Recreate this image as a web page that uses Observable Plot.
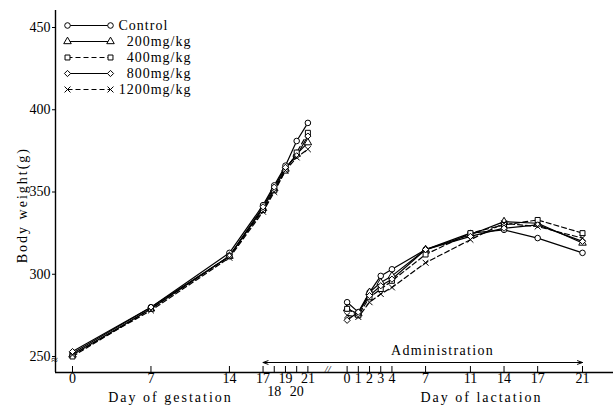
<!DOCTYPE html>
<html>
<head>
<meta charset="utf-8">
<script src="https://cdn.jsdelivr.net/npm/d3@7"></script>
<script src="https://cdn.jsdelivr.net/npm/@observablehq/plot@0.6"></script>
<style>
  html, body { margin: 0; padding: 0; background: #fff; }
  #wrap { position: relative; width: 613px; height: 415px; }
  #wrap svg { position: absolute; left: 0; top: 0; }
</style>
</head>
<body>
<div id="wrap"></div>
<script>
// ---------------- data ----------------
const series = ["Control", "200mg/kg", "400mg/kg", "800mg/kg", "1200mg/kg"];
const dashedSeries = ["400mg/kg", "1200mg/kg"];
const symbols = ["circle", "triangle", "square", "diamond2", "times"];

const gestDays = [0, 7, 14, 17, 18, 19, 20, 21];
const gestControl = [252, 280, 313, 342, 354, 366, 381, 392];
const gest200     = [251, 279, 311, 340, 352, 364, 373, 380];
const gest400     = [250, 279, 311, 339, 351, 363, 374, 386];
const gest800     = [253, 280, 311, 341, 353, 365, 372, 384];
const gest1200    = [251, 278, 310, 338, 350, 363, 371, 376];

const lactDays = [0, 1, 2, 3, 4, 7, 11, 14, 17, 21];
const lactControl = [283, 277, 289, 299, 303, 315, 325, 327, 322, 313];
const lact200     = [279, 276, 289, 295, 299, 315, 324, 332, 331, 319];
const lact400     = [279, 275, 286, 291, 296, 312, 325, 330, 333, 325];
const lact800     = [272, 277, 287, 293, 297, 315, 323, 328, 330, 320];
const lact1200    = [275, 274, 283, 288, 292, 307, 321, 331, 329, 322];

const yTicks = [250, 300, 350, 400, 450];
const gestTicksRow1 = [0, 7, 14, 17, 19, 21];
const gestTicksRow2 = [18, 20];
const lactTicks = [0, 1, 2, 3, 4, 7, 11, 14, 17, 21];

const yLabel = "Body weight(g)";
const gestTitle = "Day of gestation";
const lactTitle = "Day of lactation";
const adminLabel = "Administration";
const adminStart = 17;   // gestation day
const adminEnd = 21;     // lactation day

// ---------------- layout ----------------
const W = 613, H = 415;
const mL = 55, mR = 0, mT = 10, mB = 43;
const lactOffset = 24.5;              // position of lactation day 0 on the shared axis
const pxPerDay = (582 - 72) / (lactOffset + 21);
const xMin = -(72 - mL) / pxPerDay;
const xMax = lactOffset + 21 + (W - 582) / pxPerDay;
const pxPerUnit = (356 - 27) / 200;
const yMax = 450 + (27 - mT) / pxPerUnit;
const yMin = 250 - (372 - 356) / pxPerUnit;

const gestVals = [gestControl, gest200, gest400, gest800, gest1200];
const lactVals = [lactControl, lact200, lact400, lact800, lact1200];
const rows = [];
series.forEach((s, i) => {
  gestVals[i].forEach((v, j) => rows.push({series: s, phase: "g", pos: gestDays[j], w: v}));
  lactVals[i].forEach((v, j) => rows.push({series: s, phase: "l", pos: lactOffset + lactDays[j], w: v}));
});
const solidRows = rows.filter(d => !dashedSeries.includes(d.series));
const dashRows = rows.filter(d => dashedSeries.includes(d.series));

const allTickPos = [...new Set([...gestTicksRow1, ...gestTicksRow2])].concat(lactTicks.map(d => lactOffset + d));
const serif = "'Liberation Serif', 'DejaVu Serif', serif";

const arrowY = yMin + 10 / pxPerUnit;
const adminMid = (adminStart + lactOffset + adminEnd) / 2;

const chart = Plot.plot({
  width: W, height: H,
  marginLeft: mL, marginRight: mR, marginTop: mT, marginBottom: mB,
  style: {fontFamily: serif, fontSize: "14px", background: "transparent", color: "black"},
  x: {domain: [xMin, xMax], axis: null},
  y: {domain: [yMin, yMax], axis: null},
  symbol: {domain: series, range: symbols},
  marks: [
    Plot.ruleY([yMin], {stroke: "black", strokeWidth: 1.6}),
    Plot.ruleX([xMin], {stroke: "black", strokeWidth: 1.4}),
    Plot.axisY({ticks: yTicks, tickSize: 3, tickPadding: 2, label: null, fontSize: 14, tickFormat: d => String(d)}),
    Plot.ruleX(allTickPos, {x: d => d, y1: yMin, y2: yMin + 6 / pxPerUnit, stroke: "black", strokeWidth: 1}),
    Plot.text(gestTicksRow1, {x: d => d, text: d => String(d), frameAnchor: "bottom", dy: 10, fontSize: 14}),
    Plot.text(gestTicksRow2, {x: d => d, text: d => String(d), frameAnchor: "bottom", dy: 23.5, fontSize: 14}),
    Plot.text(lactTicks, {x: d => lactOffset + d, text: d => String(d), frameAnchor: "bottom", dy: 10, fontSize: 14}),
    Plot.text([gestTitle], {x: () => (170 - 72) / pxPerDay, text: d => d, frameAnchor: "bottom", dy: 29, fontSize: 14}),
    Plot.text([lactTitle], {x: () => (481 - 72) / pxPerDay, text: d => d, frameAnchor: "bottom", dy: 29, fontSize: 14}),
    Plot.text([yLabel], {y: () => 342, text: d => d, frameAnchor: "left", textAnchor: "middle", dx: -33, rotate: -90, fontSize: 14}),
    Plot.text(["≈"], {frameAnchor: "bottom-left", textAnchor: "middle", dy: -9, dx: -1, fontSize: 12}),
    Plot.text(["//"], {x: () => (21 + lactOffset) / 2, text: d => d, frameAnchor: "bottom", fontSize: 11, fontStyle: "italic"}),
    Plot.arrow([adminStart], {x1: () => adminMid, x2: d => d, y1: () => arrowY, y2: () => arrowY, stroke: "black", strokeWidth: 1, headLength: 8, headAngle: 40}),
    Plot.arrow([lactOffset + adminEnd], {x1: () => adminMid, x2: d => d, y1: () => arrowY, y2: () => arrowY, stroke: "black", strokeWidth: 1, headLength: 8, headAngle: 40}),
    Plot.text([adminLabel], {x: () => (442 - 72) / pxPerDay, text: d => d, frameAnchor: "bottom", dy: -18, fontSize: 14}),
    Plot.line(solidRows, {x: "pos", y: "w", z: d => d.series + d.phase, stroke: "black", strokeWidth: 1.2}),
    Plot.line(dashRows, {x: "pos", y: "w", z: d => d.series + d.phase, stroke: "black", strokeWidth: 1.2, strokeDasharray: "5,3"}),
    Plot.dot(rows, {x: "pos", y: "w", symbol: "series", r: 2.8, fill: "white", stroke: "black", strokeWidth: 1})
  ]
});

// letter spacing for titles
chart.querySelectorAll("text").forEach(t => {
  const s = t.textContent;
  if (s === gestTitle || s === lactTitle || s === yLabel) t.setAttribute("letter-spacing", "2");
  if (s === adminLabel) t.setAttribute("letter-spacing", "1.3");
});

// ---------------- legend ----------------
const solidLegend = series.filter(s => !dashedSeries.includes(s));
const legendEnds = series.flatMap(s => [{s, e: 0}, {s, e: 1}]);
const legend = Plot.plot({
  width: 220, height: 100, margin: 0,
  style: {fontFamily: serif, fontSize: "14px", background: "transparent", color: "black"},
  x: {domain: [0, 1], range: [67, 110], axis: null},
  y: {type: "point", domain: series, range: [25, 89], padding: 0, axis: null},
  symbol: {domain: series, range: symbols},
  marks: [
    Plot.link(solidLegend, {x1: () => 0, x2: () => 1, y1: d => d, y2: d => d, stroke: "black", strokeWidth: 1.2}),
    Plot.link(dashedSeries, {x1: () => 0, x2: () => 1, y1: d => d, y2: d => d, stroke: "black", strokeWidth: 1.2, strokeDasharray: "5,3"}),
    Plot.dot(legendEnds, {x: "e", y: "s", symbol: "s", r: 2.8, fill: "white", stroke: "black", strokeWidth: 1}),
    Plot.text(series.slice(0, 1), {x: () => 1, y: d => d, text: d => d, dx: 8, textAnchor: "start", fontSize: 14}),
    Plot.text(series.slice(1), {x: () => 1, y: d => d, text: d => d, dx: 81, textAnchor: "end", fontSize: 14})
  ]
});
legend.querySelectorAll("text").forEach(t => t.setAttribute("letter-spacing", "1"));

const wrap = document.getElementById("wrap");
wrap.appendChild(chart);
wrap.appendChild(legend);
</script>
</body>
</html>
